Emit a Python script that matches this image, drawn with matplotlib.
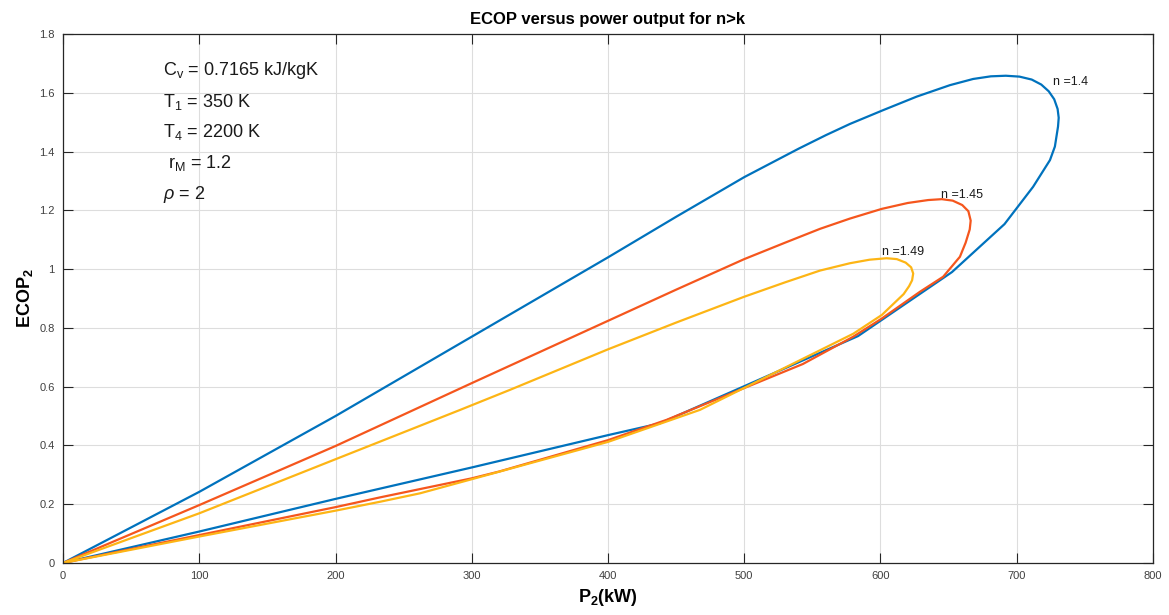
import numpy as np
import matplotlib
matplotlib.use("Agg")
import matplotlib.pyplot as plt

plt.rcParams['font.family'] = ['Liberation Sans', 'DejaVu Sans']
plt.rcParams['mathtext.fontset'] = 'custom'
plt.rcParams['mathtext.rm'] = 'Liberation Sans'
plt.rcParams['mathtext.it'] = 'Liberation Sans:italic'
plt.rcParams['mathtext.bf'] = 'Liberation Sans:bold'

# curve data: upper branch out, round the nose, lower branch back
p_14 = [0, 100, 200, 300, 400, 450, 500, 540, 560, 577.6, 602, 626.6, 651, 668, 681, 692, 702, 711, 718,
        723.5, 727.5, 730, 730.8, 730.3, 728, 724.4, 712, 691, 652.5, 583.5, 438, 400, 300, 200, 100, 0]
e_14 = [0, 0.242, 0.5, 0.77, 1.04, 1.178, 1.313, 1.41, 1.456, 1.494, 1.541, 1.587, 1.626, 1.647, 1.656, 1.658, 1.655, 1.645, 1.628,
        1.605, 1.578, 1.545, 1.515, 1.485, 1.417, 1.371, 1.28, 1.153, 0.99, 0.772, 0.475, 0.435, 0.325, 0.218, 0.107, 0]

p_145 = [0, 100, 200, 300, 400, 450, 500, 530, 555.6, 577.6, 601, 620, 635, 645, 653, 660, 664.5, 666.2,
         665.5, 662.5, 658.3, 646, 629, 601, 580, 543, 443, 400, 320, 300, 233, 200, 100, 0]
e_145 = [0, 0.197, 0.398, 0.612, 0.824, 0.93, 1.034, 1.09, 1.137, 1.172, 1.205, 1.225, 1.235, 1.238, 1.233, 1.218, 1.197, 1.165,
         1.135, 1.09, 1.042, 0.974, 0.923, 0.832, 0.77, 0.677, 0.487, 0.418, 0.311, 0.288, 0.2235, 0.19, 0.095, 0]

p_149 = [0, 100, 200, 291, 328, 400, 450, 500, 530, 555.6, 577.6, 592, 604.5, 612, 618.5, 622.5, 624, 623.2,
         621, 617, 601, 580, 467.5, 400, 300, 262, 233, 200, 100, 0]
e_149 = [0, 0.169, 0.353, 0.52, 0.589, 0.727, 0.818, 0.906, 0.955, 0.995, 1.02, 1.032, 1.037, 1.034, 1.022, 1.006, 0.985, 0.962,
         0.942, 0.915, 0.844, 0.78, 0.521, 0.412, 0.285, 0.237, 0.2086, 0.178, 0.09, 0]

curve_labels = ['n =1.4', 'n =1.45', 'n =1.49']
label_pos = [(726.5, 1.626), (644.2, 1.241), (600.9, 1.048)]
params = [r'C$_{\rm v}$ = 0.7165 kJ/kgK', r'T$_{\rm 1}$ = 350 K', r'T$_{\rm 4}$ = 2200 K',
          r' r$_{\rm M}$ = 1.2', r'$\rho$ = 2']
param_y = [1.660, 1.553, 1.4505, 1.343, 1.2375]

colors = ['#0072BD', '#F5561D', '#FDB515']

fig = plt.figure(figsize=(11.69, 6.15), dpi=100)
ax = fig.add_axes([0.0539, 0.0846, 0.9324, 0.8601])

for p, e, c in zip([p_14, p_145, p_149], [e_14, e_145, e_149], colors):
    ax.plot(p, e, color=c, lw=1.6, solid_joinstyle='round')

for lab, (x, y) in zip(curve_labels, label_pos):
    ax.text(x, y, lab, fontsize=9, color='#1a1a1a', va='baseline', ha='left')

for t, y in zip(params, param_y):
    ax.text(73.4, y, t, fontsize=13, color='#1a1a1a', va='baseline', ha='left')

ax.set_xlim(0, 800)
ax.set_ylim(0, 1.8)
ax.set_xticks(np.arange(0, 801, 100))
ax.set_yticks(np.arange(0, 1.81, 0.2))
ax.set_yticklabels(['0', '0.2', '0.4', '0.6', '0.8', '1', '1.2', '1.4', '1.6', '1.8'])
ax.grid(True, color='#dddddd', lw=0.8)
ax.set_axisbelow(True)
ax.tick_params(direction='in', length=7, width=0.8, top=True, right=True,
               labelsize=8, labelcolor='#404040', color='#262626', pad=6)
for s in ax.spines.values():
    s.set_color('#262626')
    s.set_linewidth(0.9)

ax.set_title('ECOP versus power output for n>k', fontsize=12, fontweight='bold', pad=7)
ax.set_xlabel(r'P$_\mathbf{2}$(kW)', fontsize=13, fontweight='bold', labelpad=4)
ax.set_ylabel(r'ECOP$_\mathbf{2}$', fontsize=13, fontweight='bold', labelpad=3)

fig.savefig('out.png', dpi=100)
